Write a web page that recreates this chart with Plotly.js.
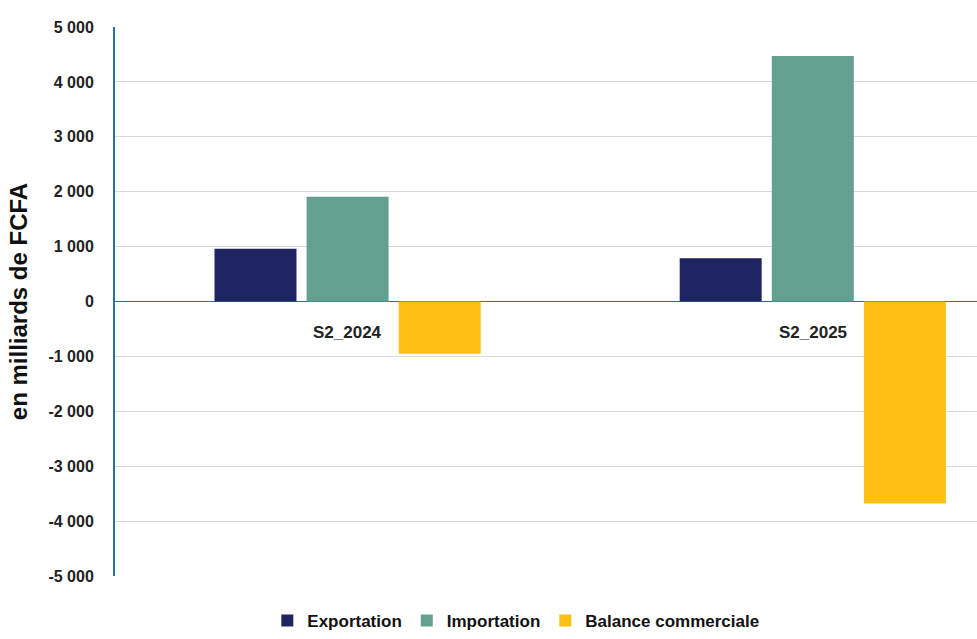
<!DOCTYPE html>
<html><head><meta charset="utf-8">
<script src="https://cdn.plot.ly/plotly-3.0.1.min.js"></script>
<style>html,body{margin:0;padding:0;background:#fff}#chart{width:977px;height:639px}</style>
</head><body><div id="chart"></div>
<script>
const categories = ['S2_2024', 'S2_2025'];
const exportation = [960, 790];
const importation = [1910, 4470];
const balance = [-950, -3680];
const tickValues = [5000, 4000, 3000, 2000, 1000, 0, -1000, -2000, -3000, -4000, -5000];
const tickLabels = ['5 000', '4 000', '3 000', '2 000', '1 000', '0', '-1 000', '-2 000', '-3 000', '-4 000', '-5 000'];

const traces = [
  {type:'bar', name:'Exportation', x:categories, y:exportation, marker:{color:'#1f2560'}},
  {type:'bar', name:'Importation', x:categories, y:importation, marker:{color:'#64a08f'}},
  {type:'bar', name:'Balance commerciale', x:categories, y:balance, marker:{color:'#fcbf12'}}
];

const FONT = 'Liberation Sans, Arial, sans-serif';
const layout = {
  width:977, height:639,
  margin:{l:115, r:0, t:27, b:63},
  paper_bgcolor:'#fff', plot_bgcolor:'#fff',
  barmode:'group', bargap:0.406, bargroupgap:0.11,
  showlegend:true,
  legend:{orientation:'h', x:0.465, xanchor:'center', xref:'paper', yref:'container', y:-0.015, yanchor:'bottom',
    font:{family:FONT, size:17, color:'#111', weight:'bold'},
    itemwidth:30, traceorder:'normal'},
  xaxis:{type:'category', range:[-0.5, 1.353], showticklabels:false, showgrid:false, zeroline:false, showline:false, fixedrange:true},
  yaxis:{range:[-5000, 5000], tickvals:tickValues, ticktext:tickLabels,
    tickfont:{family:FONT, size:16, color:'#222', weight:'bold'},
    ticklabelstandoff:16,
    showgrid:true, gridcolor:'#d9d9d9', gridwidth:1,
    zeroline:true, zerolinecolor:'#2d6e9e', zerolinewidth:1.5,
    showline:true, linecolor:'#2d6e9e', linewidth:2,
    ticks:'', ticklen:0, automargin:false,
    title:{text:'en milliards de FCFA', standoff:14,
      font:{family:FONT, size:24, color:'#111', weight:'bold'}}},
  annotations: categories.map(c => ({
    x:c, y:0, xref:'x', yref:'y', text:c, showarrow:false, yshift:-31,
    bgcolor:'#fff',
    font:{family:FONT, size:17, color:'#222', weight:'bold'}
  }))
};

Plotly.newPlot('chart', traces, layout, {displayModeBar:false, staticPlot:true});
</script></body></html>
